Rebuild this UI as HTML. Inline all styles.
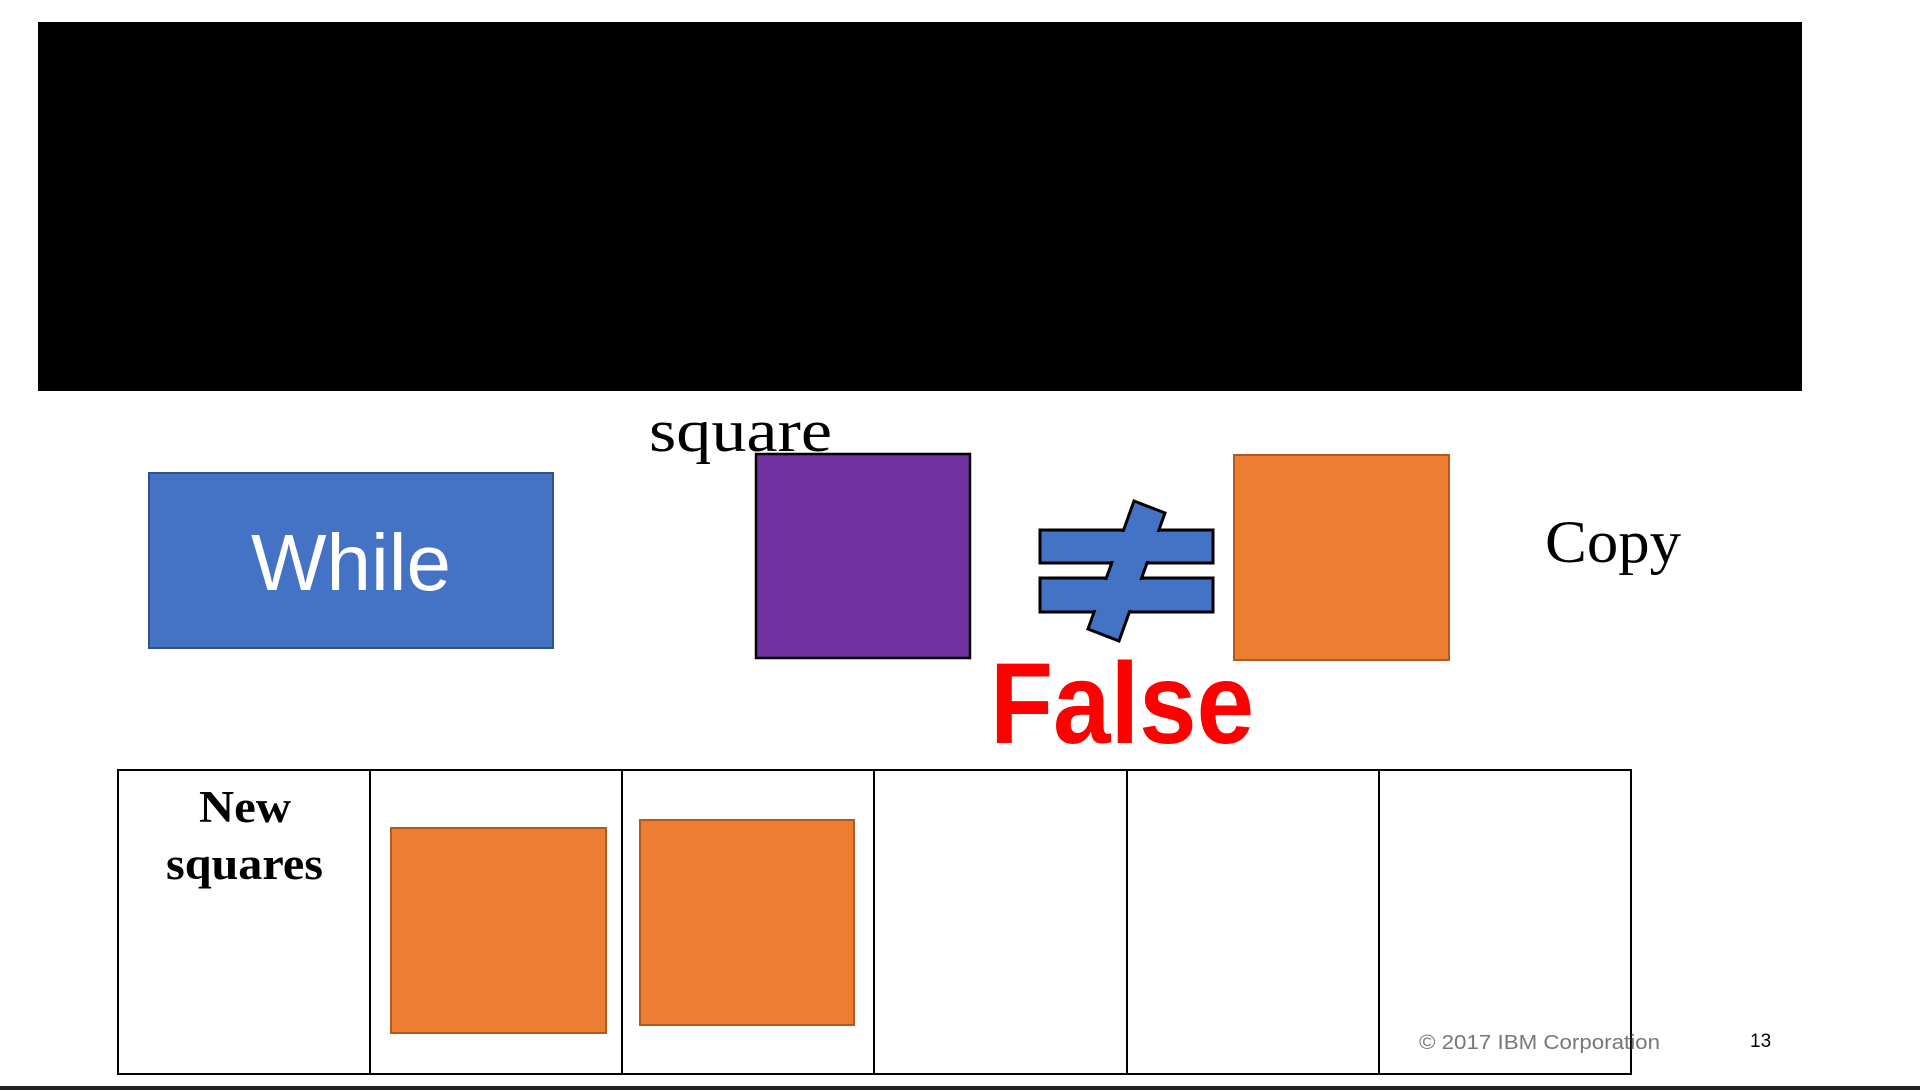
<!DOCTYPE html>
<html><head><meta charset="utf-8"><style>
html,body{margin:0;padding:0;background:#fff;}
svg{display:block;}
</style></head><body>
<svg width="1920" height="1090" viewBox="0 0 1920 1090" xmlns="http://www.w3.org/2000/svg">
<rect x="0" y="0" width="1920" height="1090" fill="#fff"/>
<rect x="38" y="22" width="1764" height="369" fill="#000"/>
<text x="649" y="451" font-family="Liberation Serif, serif" font-size="60" textLength="183" lengthAdjust="spacingAndGlyphs" fill="#000">square</text>
<g>
<rect x="149" y="473" width="404" height="175" fill="#4472C4" stroke="#2F528F" stroke-width="2"/>
<text x="351" y="590" text-anchor="middle" font-family="Liberation Sans, sans-serif" font-size="80" fill="#fff">While</text>
</g>
<rect x="756" y="454" width="214" height="204" fill="#7030A0" stroke="#000" stroke-width="2.5"/>
<g>
<rect x="1040" y="530" width="173" height="33" fill="#4472C4" stroke="#000" stroke-width="3"/>
<rect x="1040" y="578" width="173" height="34" fill="#4472C4" stroke="#000" stroke-width="3"/>
<polygon points="1134,501 1165,513 1119,641 1088,629" fill="#4472C4" stroke="#000" stroke-width="3"/>
<rect x="1042" y="532" width="169" height="29" fill="#4472C4"/>
<rect x="1042" y="580" width="169" height="30" fill="#4472C4"/>
<polygon points="1135,504 1162,514 1118,638 1091,628" fill="#4472C4"/>
</g>
<rect x="1234" y="455" width="215" height="205" fill="#ED7D31" stroke="#AE5A21" stroke-width="2"/>
<text x="990" y="743" font-family="Liberation Sans, sans-serif" font-weight="bold" font-size="115" textLength="264" lengthAdjust="spacingAndGlyphs" fill="#FF0000">False</text>
<text x="1545" y="562" font-family="Liberation Serif, serif" font-size="60" textLength="136" lengthAdjust="spacingAndGlyphs" fill="#000">Copy</text>
<g fill="none" stroke="#000" stroke-width="2">
<rect x="118" y="770" width="1513" height="304"/>
<line x1="370" y1="770" x2="370" y2="1074"/>
<line x1="622" y1="770" x2="622" y2="1074"/>
<line x1="874" y1="770" x2="874" y2="1074"/>
<line x1="1127" y1="770" x2="1127" y2="1074"/>
<line x1="1379" y1="770" x2="1379" y2="1074"/>
</g>
<text font-family="Liberation Serif, serif" font-weight="bold" font-size="45" fill="#000"><tspan x="199" y="822" textLength="92" lengthAdjust="spacingAndGlyphs">New</tspan></text>
<text font-family="Liberation Serif, serif" font-weight="bold" font-size="45" fill="#000" x="166" y="879" textLength="157" lengthAdjust="spacingAndGlyphs">squares</text>
<rect x="391" y="828" width="215" height="205" fill="#ED7D31" stroke="#AE5A21" stroke-width="2"/>
<rect x="640" y="820" width="214" height="205" fill="#ED7D31" stroke="#AE5A21" stroke-width="2"/>
<text x="1419" y="1049" font-family="Liberation Sans, sans-serif" font-size="20" textLength="241" lengthAdjust="spacingAndGlyphs" fill="#777">© 2017 IBM Corporation</text>
<text x="1750" y="1047" font-family="Liberation Sans, sans-serif" font-size="19" fill="#000">13</text>
<rect x="0" y="1086" width="1920" height="4" fill="#222"/>
</svg>
</body></html>
